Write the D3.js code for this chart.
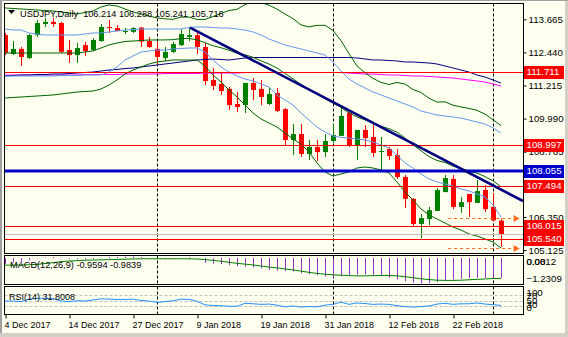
<!DOCTYPE html>
<html><head><meta charset="utf-8">
<script src="https://cdn.jsdelivr.net/npm/d3@7"></script>
<style>
html,body{margin:0;padding:0;background:#FFFFF0;}
svg{display:block;}
text{font-family:"Liberation Sans",Arial,sans-serif;font-size:9.7px;fill:#000;white-space:pre;}
</style></head><body>
<svg id="c" width="568" height="337"></svg>
<script>
// ---------------- DATA ----------------
const dates = ["2017-12-04","2017-12-05","2017-12-06","2017-12-07","2017-12-08","2017-12-11","2017-12-12","2017-12-13","2017-12-14","2017-12-15",
"2017-12-18","2017-12-19","2017-12-20","2017-12-21","2017-12-22","2017-12-26","2017-12-27","2017-12-28","2017-12-29","2018-01-02",
"2018-01-03","2018-01-04","2018-01-05","2018-01-08","2018-01-09","2018-01-10","2018-01-11","2018-01-12","2018-01-15","2018-01-16",
"2018-01-17","2018-01-18","2018-01-19","2018-01-22","2018-01-23","2018-01-24","2018-01-25","2018-01-26","2018-01-29","2018-01-30",
"2018-01-31","2018-02-01","2018-02-02","2018-02-05","2018-02-06","2018-02-07","2018-02-08","2018-02-09","2018-02-12","2018-02-13",
"2018-02-14","2018-02-15","2018-02-16","2018-02-19","2018-02-20","2018-02-21","2018-02-22","2018-02-23","2018-02-26","2018-02-27",
"2018-02-28","2018-03-01","2018-03-02"];
const open = [113.08,112.38,112.57,112.23,113.08,113.49,113.57,113.53,112.53,112.34,
112.71,112.53,112.86,113.38,113.34,113.20,113.20,113.36,112.86,112.57,
112.23,112.46,112.71,113.01,113.08,112.64,111.42,111.27,111.09,110.53,
110.49,111.31,111.09,110.53,110.94,110.34,109.20,109.42,108.68,108.94,
108.75,109.16,109.35,110.20,109.01,109.57,109.31,108.77,108.87,108.64,
107.83,107.02,106.09,106.27,106.57,107.27,107.76,106.72,107.20,106.87,
107.35,106.72,106.214];
const high = [113.16,112.86,112.64,113.12,113.64,113.71,113.71,113.57,112.90,112.79,
112.83,112.97,113.49,113.64,113.45,113.34,113.38,113.38,113.01,112.83,
112.64,112.83,113.31,113.34,113.27,112.79,111.86,111.68,111.16,110.97,
111.31,111.49,111.42,111.12,111.12,110.38,109.79,109.79,109.20,109.20,
109.42,109.79,110.49,110.31,109.57,109.75,109.79,109.31,108.94,108.87,
107.90,107.05,106.46,106.72,107.42,107.90,107.90,107.09,107.20,107.72,
107.53,107.24,106.288];
const low = [112.34,112.34,111.94,112.20,113.01,113.38,113.38,112.42,112.05,112.05,
112.31,112.49,112.83,113.16,113.23,113.12,113.16,112.64,112.60,111.97,
112.12,112.42,112.68,112.86,112.38,111.23,111.05,110.86,110.31,110.23,
110.20,110.68,110.49,110.49,110.23,108.98,108.64,108.57,108.46,108.42,
108.57,109.09,109.35,108.94,108.46,108.94,108.57,108.09,108.46,107.76,
106.68,106.02,105.57,106.05,106.57,107.27,106.64,106.50,106.35,106.87,
106.53,106.20,105.241];
const close = [112.42,112.57,112.27,113.08,113.53,113.57,113.49,112.46,112.34,112.60,
112.49,112.90,113.38,113.34,113.23,113.23,113.34,112.84,112.64,112.27,
112.46,112.75,113.12,113.08,112.64,111.38,111.20,111.01,110.49,110.42,
111.31,111.05,110.79,110.90,110.27,109.20,109.42,108.68,108.94,108.75,
109.16,109.38,110.09,108.98,109.57,109.27,108.72,108.79,108.61,107.83,
107.02,106.09,106.31,106.60,107.35,107.79,106.72,106.90,106.90,107.31,
106.64,106.22,105.716];

// Bollinger (green) upper / middle / lower
const bbUpper = [114.084,114.065,114.047,114.028,114.010,113.991,113.973,113.936,113.899,113.862,
113.917,113.973,114.121,114.195,114.158,114.046,113.936,113.860,113.787,113.715,
113.682,113.663,113.747,113.747,113.659,113.661,113.766,113.879,113.991,114.033,
114.211,114.321,114.285,114.189,114.041,113.859,113.689,113.458,113.384,113.439,
113.442,113.254,112.876,112.392,111.938,111.689,111.478,111.330,111.253,111.328,
111.268,111.068,110.953,110.745,110.601,110.610,110.488,110.421,110.365,110.295,
110.154,109.949,109.733];
const bbMiddle = [112.418,112.418,112.418,112.418,112.418,112.418,112.418,112.418,112.418,112.418,
112.455,112.492,112.603,112.714,112.788,112.843,112.862,112.880,112.899,112.900,
112.902,112.911,112.953,112.953,112.909,112.799,112.685,112.612,112.520,112.411,
112.352,112.259,112.130,112.008,111.860,111.658,111.462,111.254,111.069,110.893,
110.728,110.560,110.408,110.203,110.050,109.944,109.820,109.709,109.615,109.486,
109.271,109.023,108.799,108.584,108.438,108.368,108.233,108.144,108.042,107.970,
107.844,107.686,107.467];
const bbLower = [110.752,110.771,110.789,110.808,110.826,110.845,110.863,110.900,110.937,110.974,
110.993,111.011,111.085,111.233,111.418,111.640,111.788,111.900,112.011,112.085,
112.122,112.159,112.159,112.159,112.159,111.937,111.604,111.345,111.049,110.789,
110.493,110.197,109.975,109.827,109.679,109.457,109.235,109.050,108.754,108.347,
108.014,107.866,107.940,108.014,108.162,108.199,108.162,108.088,107.977,107.644,
107.274,106.978,106.645,106.423,106.275,106.126,105.978,105.867,105.719,105.645,
105.534,105.423,105.201];
// light-blue band
const bandUpper = [113.306,113.269,113.269,113.158,113.121,113.084,113.084,113.084,113.084,113.084,
113.121,113.158,113.158,113.195,113.232,113.269,113.288,113.306,113.306,113.306,
113.306,113.306,113.306,113.362,113.380,113.380,113.362,113.343,113.343,113.306,
113.269,113.195,113.084,112.936,112.825,112.714,112.640,112.566,112.492,112.418,
112.344,112.085,111.752,111.456,111.271,111.123,110.975,110.864,110.752,110.641,
110.530,110.419,110.271,110.197,110.123,110.086,110.049,110.012,109.938,109.864,
109.790,109.642,109.457];
const bandLower = [111.566,111.566,111.566,111.566,111.566,111.566,111.566,111.585,111.585,111.585,
111.603,111.603,111.603,111.714,111.900,112.159,112.307,112.455,112.492,112.529,
112.529,112.566,112.584,112.603,112.603,112.455,112.159,111.900,111.714,111.566,
111.456,111.382,111.271,111.160,110.864,110.678,110.493,110.197,109.938,109.679,
109.494,109.346,109.290,109.272,109.235,109.198,109.124,109.013,108.902,108.643,
108.347,108.162,107.940,107.755,107.644,107.569,107.495,107.384,107.311,107.200,
107.089,106.793,106.348];
// long moving averages
const maNavy = [111.566,111.585,111.603,111.603,111.622,111.622,111.640,111.640,111.659,111.677,
111.696,111.714,111.751,111.788,111.807,111.844,111.863,111.900,111.937,111.974,
112.011,112.048,112.085,112.122,112.159,112.177,112.196,112.177,112.159,112.196,
112.233,112.251,112.251,112.251,112.251,112.251,112.251,112.251,112.251,112.251,
112.251,112.251,112.251,112.251,112.233,112.196,112.159,112.159,112.140,112.122,
112.085,112.085,112.066,112.048,112.011,111.937,111.863,111.788,111.714,111.603,
111.529,111.418,111.308];
const maMagenta = [111.603,111.603,111.603,111.603,111.603,111.603,111.603,111.603,111.603,111.603,
111.622,111.622,111.622,111.622,111.622,111.640,111.640,111.640,111.640,111.640,
111.659,111.659,111.659,111.659,111.659,111.677,111.677,111.677,111.677,111.677,
111.696,111.696,111.696,111.696,111.696,111.696,111.696,111.696,111.696,111.696,
111.696,111.696,111.696,111.677,111.659,111.640,111.640,111.622,111.603,111.603,
111.585,111.566,111.566,111.548,111.529,111.511,111.492,111.455,111.418,111.381,
111.344,111.270,111.196];
// MACD(12,26,9)
const macdMain = [-0.28,-0.22,-0.19,-0.10,-0.02,0.03,0.05,-0.01,-0.05,-0.06,
-0.07,-0.04,0.02,0.05,0.06,0.07,0.0812,0.05,0.02,-0.03,
-0.05,-0.04,0.01,0.04,0.02,-0.23,-0.26,-0.29,-0.34,-0.39,
-0.42,-0.45,-0.50,-0.57,-0.61,-0.62,-0.65,-0.73,-0.78,-0.83,
-0.89,-0.94,-0.88,-0.83,-0.81,-0.79,-0.81,-0.86,-0.96,-1.03,
-1.12,-1.19,-1.2309,-1.21,-1.16,-1.10,-1.04,-1.00,-0.97,-0.96,
-0.96,-0.96,-0.9594];
const macdSignal = [-0.34,-0.34,-0.33,-0.32,-0.30,-0.26,-0.22,-0.17,-0.14,-0.12,
-0.10,-0.09,-0.08,-0.07,-0.06,-0.05,-0.04,-0.03,-0.03,-0.03,
-0.03,-0.03,-0.03,-0.03,-0.04,-0.07,-0.11,-0.15,-0.20,-0.25,
-0.29,-0.33,-0.38,-0.43,-0.47,-0.52,-0.57,-0.63,-0.69,-0.74,
-0.78,-0.81,-0.83,-0.85,-0.86,-0.86,-0.85,-0.84,-0.84,-0.86,
-0.90,-0.95,-1.00,-1.04,-1.07,-1.08,-1.08,-1.07,-1.05,-1.03,
-1.01,-0.99,-0.9839];
const macdRange = [-1.2309, 0.0812];
// RSI(14)
const rsi = [48,48,46,55,58,58,57,48,46,49,48,52,56,55,54,54,55,50,48,43,
46,49,55,54,47,34,32,31,29,29,40,38,36,37,33,27,30,26,28,27,
33,36,44,36,41,39,36,37,36,31,28,26,28,30,37,40,36,38,38,41,
37,35,31.8008];
const rsiLevels = [70,50,30];
const rsiAxisLabels = [100,70,50,30,0];
// levels / objects
const priceTicks = [113.665,112.440,111.215,109.990,108.765,106.350,105.125];
const redLevels = [111.711,108.997,107.494,106.015,105.540];
const blueLevels = [108.055];
const trendAnchors = [{i:23.125,p:113.36},{i:64.75,p:106.94}];
const arrowLevels = [106.30, 105.21];
const arrowSpan = [55.4, 64.2];
const dateTickIdx = [0,8,16,24,32,40,48,56];
const titleSymbol = "USDJPY,Daily";
const titleOHLC = ["106.214","106.288","105.241","105.716"];

// ---------------- DRAW ----------------
const N = close.length;
const svg = d3.select("#c");
const BG = "#FFFFF0", GREEN = "#008000", RED = "#FF0000";
const L = 4.5, R = 523.5;
const P = {main:[3.5,253.5], macd:[255.5,284.5], rsi:[286.5,314.5]};

svg.append("rect").attr("width",568).attr("height",337).attr("fill",BG);

const x = d3.scaleLinear().domain([0, N-1]).range([5, 5+8*(N-1)]);
const xc = i => Math.round(x(i)) + 0.5;
const y = d3.scaleLinear().domain([105.125, 113.665]).range([250.05, 19.3]);
const yM = d3.scaleLinear().domain(macdRange).range([283.5, 256.5]);
const yR = d3.scaleLinear().domain([0,100]).range([314.25, 286.75]);
const parse = d3.timeParse("%Y-%m-%d");
const D = dates.map(parse);

const defs = svg.append("defs");
Object.entries(P).forEach(([k,[t,b]]) => {
  defs.append("clipPath").attr("id","clip-"+k).append("rect")
    .attr("x",L+0.5).attr("y",t+0.5).attr("width",R-L-1).attr("height",b-t-1);
});
const gMain = svg.append("g").attr("clip-path","url(#clip-main)");
const gMacd = svg.append("g").attr("clip-path","url(#clip-macd)");
const gRsi = svg.append("g").attr("clip-path","url(#clip-rsi)");

// period separators (month starts)
const sepIdx = d3.range(1,N).filter(i => D[i].getMonth() !== D[i-1].getMonth());
[[gMain,"main"],[gMacd,"macd"],[gRsi,"rsi"]].forEach(([g,k]) => {
  g.selectAll("line.sep").data(sepIdx).join("line").attr("class","sep")
    .attr("x1",i=>xc(i)).attr("x2",i=>xc(i)).attr("y1",P[k][0]).attr("y2",P[k][1])
    .attr("stroke","#000").attr("stroke-dasharray","3,2");
});

// candles
const idx = d3.range(N);
const col = i => close[i] >= open[i] ? GREEN : RED;
gMain.selectAll("line.wick").data(idx).join("line").attr("class","wick")
  .attr("x1",xc).attr("x2",xc).attr("y1",i=>y(high[i])).attr("y2",i=>y(low[i]))
  .attr("stroke",col).attr("stroke-width",1);
gMain.selectAll("rect.body").data(idx).join("rect").attr("class","body")
  .attr("x",i=>xc(i)-2.5).attr("width",5)
  .attr("y",i=>y(Math.max(open[i],close[i])))
  .attr("height",i=>Math.max(1, Math.abs(y(open[i])-y(close[i]))))
  .attr("fill",col);

// indicator lines
const lineGen = arr => d3.line().x((d,i)=>x(i)).y(d=>y(d))(arr);
function series(arr, color, w){
  gMain.append("path").attr("d",lineGen(arr)).attr("fill","none")
    .attr("stroke",color).attr("stroke-width",w||1);
}
series(maMagenta,"#FF00FF");
series(maNavy,"#000080");
series(bandUpper,"#6495ED");
series(bandLower,"#6495ED");
series(bbUpper,"#006400");
series(bbMiddle,"#006400");
series(bbLower,"#006400");

// horizontal levels
const hy = v => Math.round(y(v)) + 0.5;
gMain.append("line").attr("x1",L).attr("x2",R).attr("y1",hy(close[N-1])).attr("y2",hy(close[N-1]))
  .attr("stroke","#C0C0C0");
gMain.selectAll("line.red").data(redLevels).join("line").attr("class","red")
  .attr("x1",L).attr("x2",R).attr("y1",hy).attr("y2",hy).attr("stroke",RED).attr("stroke-width",1);
gMain.selectAll("line.blue").data(blueLevels).join("line").attr("class","blue")
  .attr("x1",L).attr("x2",R).attr("y1",v=>Math.round(y(v))).attr("y2",v=>Math.round(y(v)))
  .attr("stroke","#0000CD").attr("stroke-width",3);

// trend line
gMain.append("line")
  .attr("x1",x(trendAnchors[0].i)).attr("y1",y(trendAnchors[0].p))
  .attr("x2",x(trendAnchors[1].i)).attr("y2",y(trendAnchors[1].p))
  .attr("stroke","#000080").attr("stroke-width",2.6);

// orange dashed arrows
arrowLevels.forEach(v => {
  const yy = hy(v), x0 = x(arrowSpan[0]), x1 = x(arrowSpan[1]);
  gMain.append("line").attr("x1",x0).attr("x2",x1-3).attr("y1",yy).attr("y2",yy)
    .attr("stroke","#FF6A1A").attr("stroke-width",1).attr("stroke-dasharray","3,3");
  gMain.append("path").attr("d",`M${x1-5},${yy-3.5}L${x1+1},${yy}L${x1-5},${yy+3.5}Z`).attr("fill","#FF6A1A");
});

// MACD
gMacd.selectAll("line.h").data(idx).join("line").attr("class","h")
  .attr("x1",xc).attr("x2",xc).attr("y1",yM(0)).attr("y2",i=>yM(macdMain[i]))
  .attr("stroke","#9932CC").attr("stroke-width",1);
gMacd.append("path").attr("d",d3.line().x((d,i)=>x(i)).y(d=>yM(d))(macdSignal))
  .attr("fill","none").attr("stroke","#008000").attr("stroke-width",1);

// RSI
gRsi.selectAll("line.lv").data(rsiLevels).join("line").attr("class","lv")
  .attr("x1",L).attr("x2",R).attr("y1",v=>Math.round(yR(v))+0.5).attr("y2",v=>Math.round(yR(v))+0.5)
  .attr("stroke","#C0C0C0").attr("stroke-dasharray","3,2");
gRsi.append("path").attr("d",d3.line().x((d,i)=>x(i)).y(d=>yR(d))(rsi))
  .attr("fill","none").attr("stroke","#1E90FF").attr("stroke-width",1);

// panel frames
Object.values(P).forEach(([t,b]) => {
  svg.append("rect").attr("x",L).attr("y",t).attr("width",R-L).attr("height",b-t)
    .attr("fill","none").attr("stroke","#000");
});

// price axis
const ax = svg.append("g").attr("transform",`translate(${R},0)`)
  .call(d3.axisRight(y).tickValues(priceTicks).tickFormat(d3.format(".3f")).tickSize(3).tickPadding(2));
ax.select(".domain").remove();
ax.selectAll("text").style("font-size","9.7px");

// level boxes
function box(v, color){
  const yy = Math.round(y(v));
  svg.append("rect").attr("x",R+0.5).attr("y",yy-6).attr("width",40).attr("height",13).attr("fill",color);
  svg.append("text").attr("x",R+3).attr("y",yy).attr("dy","0.35em").style("fill","#fff").text(d3.format(".3f")(v));
}
redLevels.forEach(v=>box(v,RED));
blueLevels.forEach(v=>box(v,"#0000CD"));

// MACD axis labels
svg.append("text").attr("x",R+3).attr("y",yM(macdRange[1])+5).attr("dy","0.35em").text("0.0812");
svg.append("text").attr("x",R+3).attr("y",yM(0)+3).attr("dy","0.35em").text("0.00");
svg.append("text").attr("x",R+3).attr("y",yM(macdRange[0])-5).attr("dy","0.35em").text(d3.format(".4f")(macdRange[0]));
// RSI axis labels
const rsiLabY = {100:293,70:296,50:301,30:305,0:308};
rsiAxisLabels.forEach(v => svg.append("text").attr("x",R+3).attr("y",rsiLabY[v]).attr("dy","0.35em").text(v));

// date axis
const xa = svg.append("g").attr("transform",`translate(0,${P.rsi[1]})`)
  .call(d3.axisBottom(x).tickValues(dateTickIdx).tickSize(4).tickFormat(i=>d3.timeFormat("%-d %b %Y")(D[i])));
xa.select(".domain").remove();
xa.selectAll(".tick line").attr("transform","translate(0.5,0)");
xa.selectAll("text").attr("text-anchor","start").attr("x",-1).attr("y",7).style("font-size","9px");

// titles
svg.append("path").attr("d","M8,10L15,10L11.5,14Z").attr("fill","#000");
svg.append("text").attr("x",20).attr("y",17).style("font-size","9.2px")
  .text(titleSymbol + "  " + titleOHLC.join(" "));
svg.append("text").attr("x",10).attr("y",P.macd[0]+9).attr("dy","0.35em").style("font-size","9.2px")
  .text(`MACD(12,26,9) ${macdMain[N-1].toFixed(4)} ${macdSignal[N-1].toFixed(4)}`);
svg.append("text").attr("x",9).attr("y",P.rsi[0]+10).attr("dy","0.35em").style("font-size","9px")
  .text(`RSI(14) ${rsi[N-1].toFixed(4)}`);

// window frame
svg.append("rect").attr("x",0).attr("y",0).attr("width",2).attr("height",337).attr("fill","#A0A0A0");
svg.append("rect").attr("x",565).attr("y",0).attr("width",3).attr("height",337).attr("fill","#D4D0C8");
svg.append("rect").attr("x",0).attr("y",333).attr("width",568).attr("height",4).attr("fill","#D4D0C8");
svg.append("rect").attr("x",0).attr("y",0).attr("width",568).attr("height",1).attr("fill","#A0A0A0");
</script></body></html>
